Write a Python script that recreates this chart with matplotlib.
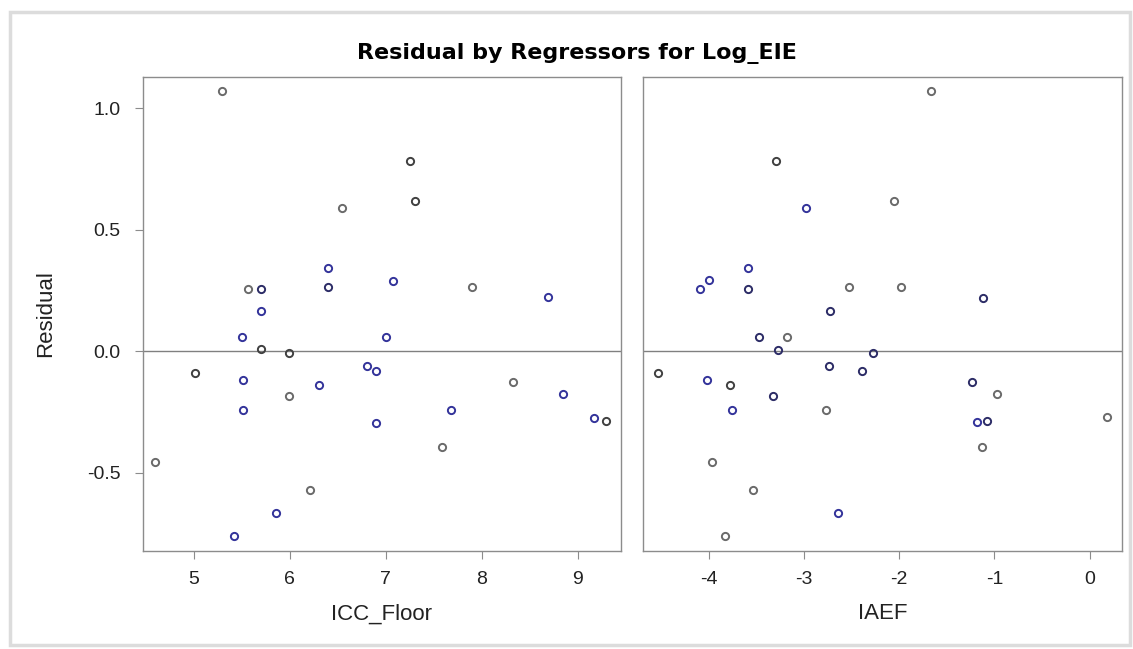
import matplotlib.pyplot as plt
from matplotlib.patches import Rectangle

plt.rcParams['font.family'] = ['Liberation Sans', 'DejaVu Sans']

# ICC_Floor panel
icc_floor = [5.29, 7.25, 7.30, 6.54, 6.40, 6.40, 7.07, 5.56, 5.70, 5.70, 7.90, 8.69,
             5.50, 7.00, 5.70, 5.99, 5.01, 5.51, 5.99, 6.30, 6.80, 6.90, 8.33, 8.85,
             5.51, 6.90, 7.68, 7.59, 9.17, 9.29, 4.60, 6.21, 5.86, 5.42]
resid_icc = [1.07, 0.785, 0.617, 0.588, 0.345, 0.267, 0.291, 0.258, 0.258, 0.167, 0.266, 0.225,
             0.060, 0.060, 0.010, -0.005, -0.088, -0.117, -0.183, -0.138, -0.060, -0.080, -0.126, -0.175,
             -0.240, -0.295, -0.240, -0.394, -0.273, -0.285, -0.455, -0.570, -0.665, -0.760]
col_icc = ['g', 'd', 'd', 'g', 'b', 'n', 'b', 'g', 'n', 'b', 'g', 'b',
           'b', 'b', 'd', 'd', 'd', 'b', 'g', 'b', 'b', 'b', 'g', 'b',
           'b', 'b', 'b', 'g', 'b', 'd', 'g', 'g', 'b', 'b']

# IAEF panel
iaef = [-1.67, -3.29, -2.98, -2.05, -3.59, -4.00, -4.09, -3.59, -2.53, -1.98, -1.12, -2.73,
        -3.47, -3.18, -3.27, -2.27, -4.53, -4.02, -3.78, -3.32, -3.75, -2.77, -2.74, -2.39,
        -1.24, -0.97, -1.18, -1.08, -1.13, 0.18, -3.96, -3.53, -2.64, -3.83]
resid_iaef = [1.07, 0.785, 0.588, 0.617, 0.345, 0.295, 0.258, 0.258, 0.266, 0.266, 0.221, 0.167,
              0.060, 0.060, 0.007, -0.005, -0.088, -0.117, -0.138, -0.183, -0.240, -0.240, -0.060, -0.080,
              -0.126, -0.175, -0.290, -0.286, -0.393, -0.270, -0.455, -0.570, -0.665, -0.760]
col_iaef = ['g', 'd', 'b', 'g', 'b', 'b', 'b', 'n', 'g', 'g', 'n', 'n',
            'n', 'g', 'n', 'n', 'd', 'b', 'd', 'n', 'b', 'g', 'n', 'n',
            'n', 'g', 'b', 'n', 'g', 'g', 'g', 'g', 'b', 'g']

palette = {'b': '#33339a', 'n': '#2c2c66', 'g': '#6a6a6a', 'd': '#404040'}

fig = plt.figure(figsize=(11.33, 6.49), dpi=100)
fig.patches.append(Rectangle((0.009, 0.006), 0.988, 0.975, transform=fig.transFigure,
                             fill=False, edgecolor='#dcdcdc', linewidth=2.5))

ax1 = fig.add_axes([0.1262, 0.151, 0.4219, 0.7304])
ax2 = fig.add_axes([0.5675, 0.151, 0.4228, 0.7304])

panels = [(ax1, icc_floor, resid_icc, col_icc, 'ICC_Floor', (4.47, 9.45), [5, 6, 7, 8, 9]),
          (ax2, iaef, resid_iaef, col_iaef, 'IAEF', (-4.69, 0.34), [-4, -3, -2, -1, 0])]

for ax, xs, ys, cs, lab, xlim, xt in panels:
    ax.axhline(0, color='#808080', linewidth=1, zorder=1)
    for x, y, c in zip(xs, ys, cs):
        ax.plot(x, y, 'o', ms=5.2, mfc='none', mec=palette[c], mew=1.4, zorder=3)
    ax.set_xlim(*xlim)
    ax.set_ylim(-0.821, 1.129)
    ax.set_xticks(xt)
    ax.set_xticklabels([str(v) for v in xt])
    ax.set_xlabel(lab, fontsize=16, labelpad=11, color='#222222')
    for s in ax.spines.values():
        s.set_color('#8c8c8c')
        s.set_linewidth(1)
    ax.tick_params(colors='#8c8c8c', labelcolor='#222222', labelsize=14,
                   length=6, direction='out')
    ax.tick_params(axis='x', pad=8.5)
    ax.tick_params(axis='y', pad=10)

ax1.set_yticks([-0.5, 0.0, 0.5, 1.0])
ax1.set_yticklabels(['-0.5', '0.0', '0.5', '1.0'])
ax1.set_ylabel('Residual', fontsize=16, labelpad=22, color='#222222')
ax2.set_yticks([-0.5, 0.0, 0.5, 1.0])
ax2.tick_params(axis='y', labelleft=False, length=0)

fig.text(0.509, 0.909, 'Residual by Regressors for Log_EIE', ha='center', va='baseline',
         fontsize=16, fontweight='bold', family=['DejaVu Sans'])

fig.savefig('out.png', dpi=100)
